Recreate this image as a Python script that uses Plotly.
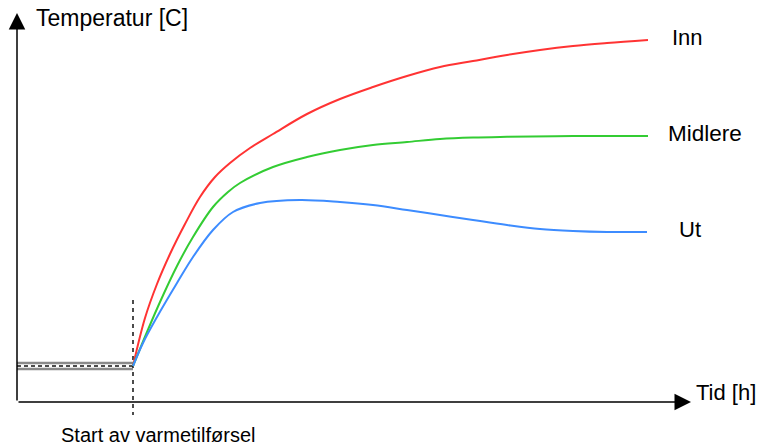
import plotly.graph_objects as go

# Time axis (arbitrary hours) and temperatures (arbitrary degrees C)
t_start = 11.6          # start of heating
T_start = 3.6           # initial temperature

inn_t = [11.6, 12.8, 14.0, 15.3, 16.8, 18.3, 19.8, 21.3, 23.3, 25.6, 29.0, 32.3, 35.6, 39.0, 42.3, 45.6, 49.0, 52.3, 55.6, 59.0, 63.1]
inn_T = [3.6, 8.4, 11.8, 14.8, 17.8, 20.5, 22.5, 23.9, 25.4, 26.8, 28.8, 30.3, 31.5, 32.6, 33.5, 34.1, 34.7, 35.2, 35.6, 35.9, 36.2]

mid_t = [11.6, 13.0, 14.3, 16.0, 17.6, 19.6, 21.1, 22.3, 25.6, 29.0, 32.3, 35.6, 39.0, 42.3, 45.6, 49.0, 55.6, 63.1]
mid_T = [3.6, 7.0, 10.0, 13.6, 16.5, 19.5, 21.0, 21.9, 23.5, 24.5, 25.2, 25.7, 26.0, 26.3, 26.45, 26.52, 26.6, 26.6]

ut_t = [11.6, 12.6, 14.0, 16.0, 17.6, 19.6, 21.6, 24.3, 28.3, 32.3, 35.6, 39.0, 42.3, 45.6, 49.0, 52.3, 55.6, 59.0, 63.0]
ut_T = [3.6, 5.9, 8.5, 11.9, 14.5, 17.2, 19.0, 19.9, 20.2, 20.0, 19.7, 19.2, 18.7, 18.2, 17.7, 17.3, 17.1, 17.0, 17.0]

pre_upper = 3.9
pre_lower = 3.3

series_names = ["Inn", "Midlere", "Ut"]
colors = ["#ff3333", "#33cc33", "#3d8cff"]

fig = go.Figure()

# pre-heating band
fig.add_trace(go.Scatter(x=[0, t_start], y=[pre_upper, pre_upper], mode="lines",
                         line=dict(color="#8a8a8a", width=2.5), hoverinfo="skip"))
fig.add_trace(go.Scatter(x=[0, t_start], y=[pre_lower, pre_lower], mode="lines",
                         line=dict(color="#8a8a8a", width=2.5), hoverinfo="skip"))
fig.add_trace(go.Scatter(x=[0, t_start], y=[T_start, T_start], mode="lines",
                         line=dict(color="#111111", width=1.5, dash="4px,3px"), hoverinfo="skip"))

# vertical start marker
fig.add_trace(go.Scatter(x=[t_start, t_start], y=[10.2, -1.3], mode="lines",
                         line=dict(color="#111111", width=1.5, dash="4px,4px"), hoverinfo="skip"))

for xs, ys, c in [(inn_t, inn_T, colors[0]), (mid_t, mid_T, colors[1]), (ut_t, ut_T, colors[2])]:
    fig.add_trace(go.Scatter(x=xs, y=ys, mode="lines",
                             line=dict(color=c, width=2, shape="spline", smoothing=1.0),
                             hoverinfo="skip"))

font = dict(family="Liberation Sans, Arial, sans-serif", color="#000000")

annotations = [
    # axes with arrows
    dict(x=0, y=38.9, ax=0, ay=0, xref="x", yref="y", axref="x", ayref="y", text="",
         showarrow=True, arrowhead=2, arrowsize=2.2, arrowwidth=1.5, arrowcolor="#000000"),
    dict(x=67.4, y=0, ax=0, ay=0, xref="x", yref="y", axref="x", ayref="y", text="",
         showarrow=True, arrowhead=2, arrowsize=2.2, arrowwidth=1.5, arrowcolor="#000000"),
    dict(x=1.7, y=38.4, xref="x", yref="y", text="Temperatur [C]", showarrow=False,
         xanchor="left", yanchor="middle", font=dict(size=23, **font)),
    dict(x=67.7, y=0.95, xref="x", yref="y", text="Tid [h]", showarrow=False,
         xanchor="left", yanchor="middle", font=dict(size=22, **font)),
    dict(x=14.1, y=-3.25, xref="x", yref="y", text="Start av varmetilførsel", showarrow=False,
         xanchor="center", yanchor="middle", font=dict(size=20, **font)),
    dict(x=65.3, y=36.5, xref="x", yref="y", text=series_names[0], showarrow=False,
         xanchor="left", yanchor="middle", font=dict(size=22, **font)),
    dict(x=64.9, y=26.9, xref="x", yref="y", text=series_names[1], showarrow=False,
         xanchor="left", yanchor="middle", font=dict(size=22.5, **font)),
    dict(x=66.0, y=17.3, xref="x", yref="y", text=series_names[2], showarrow=False,
         xanchor="left", yanchor="middle", font=dict(size=22, **font)),
]

fig.update_layout(
    width=761, height=445,
    margin=dict(l=0, r=0, t=0, b=0),
    paper_bgcolor="white", plot_bgcolor="white",
    showlegend=False,
    xaxis=dict(range=[-1.7, 74.4], visible=False, fixedrange=True),
    yaxis=dict(range=[-4.3, 40.2], visible=False, fixedrange=True),
    annotations=annotations,
)

fig.write_html("out.html", config={"displayModeBar": False},
               post_script="document.body.style.margin='0px';document.body.style.overflow='hidden';")
